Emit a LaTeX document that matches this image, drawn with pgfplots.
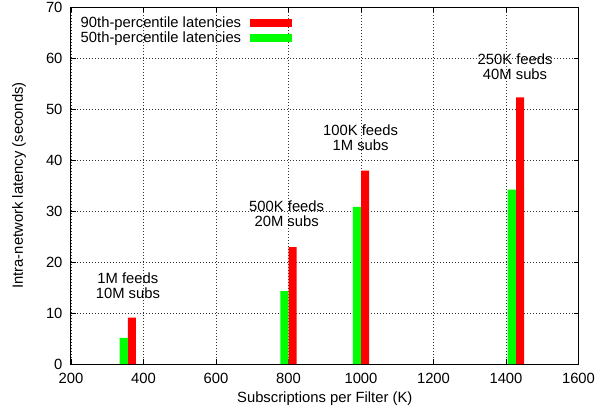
\documentclass[border=0pt]{standalone}
\usepackage{pgfplots}
\pgfplotsset{compat=1.18}
\usepackage{fontspec}
\setmainfont{Liberation Sans}
\definecolor{gpred}{RGB}{255,0,0}
\definecolor{gpgreen}{RGB}{0,255,0}
\newcommand{\gpfont}{\fontsize{14.8bp}{15bp}\selectfont}
\begin{document}
\begin{tikzpicture}
\begin{axis}[
  at={(0,0)}, anchor=south west,
  scale only axis, width=507.5bp, height=357bp,
  xmin=200, xmax=1600, ymin=0, ymax=70,
  xtick={200,400,...,1600}, ytick={0,10,...,70},
  /pgf/number format/assume math mode=true,
  /pgf/number format/set thousands separator={},
  tick label style={font=\gpfont},
  label style={font=\gpfont},
  xticklabel style={yshift=-5.5bp},
  yticklabel style={xshift=-5bp},
  major tick length=5bp,
  tick style={black, line width=0.6bp},
  axis line style={line width=1bp},
  grid=major,
  major grid style={black!80, line width=0.5bp, dash pattern=on 1bp off 2bp},
  xlabel={Subscriptions per Filter (K)},
  ylabel={Intra-network latency (seconds)},
  xlabel style={at={(axis description cs:0.5,-0.098)}, anchor=center},
  ylabel style={at={(axis description cs:-0.1025,0.5)}, anchor=center},
  legend style={draw=none, fill=none, at={(0,1)}, anchor=north west,
    xshift=9bp, yshift=-8.75bp, inner sep=0pt, outer sep=0pt,
    row sep=0bp, column sep=8bp, font=\gpfont,
    nodes={inner sep=0.75bp, text height=10.5bp, text depth=3bp}},
  legend plot pos=right, legend cell align=left,
  legend image code/.code={\fill[#1,draw=none] (0bp,-4bp) rectangle (42bp,4bp);},
  bar width=22.5,
]
\addplot[ybar, fill=gpred, draw=none] coordinates {(368,9.1) (811.5,22.9) (1011.5,37.9) (1439,52.3)};
\addlegendentry{90th-percentile latencies}
\addplot[ybar, fill=gpgreen, draw=none] coordinates {(345.5,5.1) (788.5,14.3) (988.5,30.8) (1416,34.2)};
\addlegendentry{50th-percentile latencies}
\node[align=center, font=\gpfont] at (axis cs:357,15.4) {1M feeds\\10M subs};
\node[align=center, font=\gpfont] at (axis cs:795,29.4) {500K feeds\\20M subs};
\node[align=center, font=\gpfont] at (axis cs:999,44.3) {100K feeds\\1M subs};
\node[align=center, font=\gpfont] at (axis cs:1425,58.3) {250K feeds\\40M subs};
\end{axis}
\pgfresetboundingbox
\path (-71bp,-50bp) rectangle (533bp,364bp);
\end{tikzpicture}
\end{document}
